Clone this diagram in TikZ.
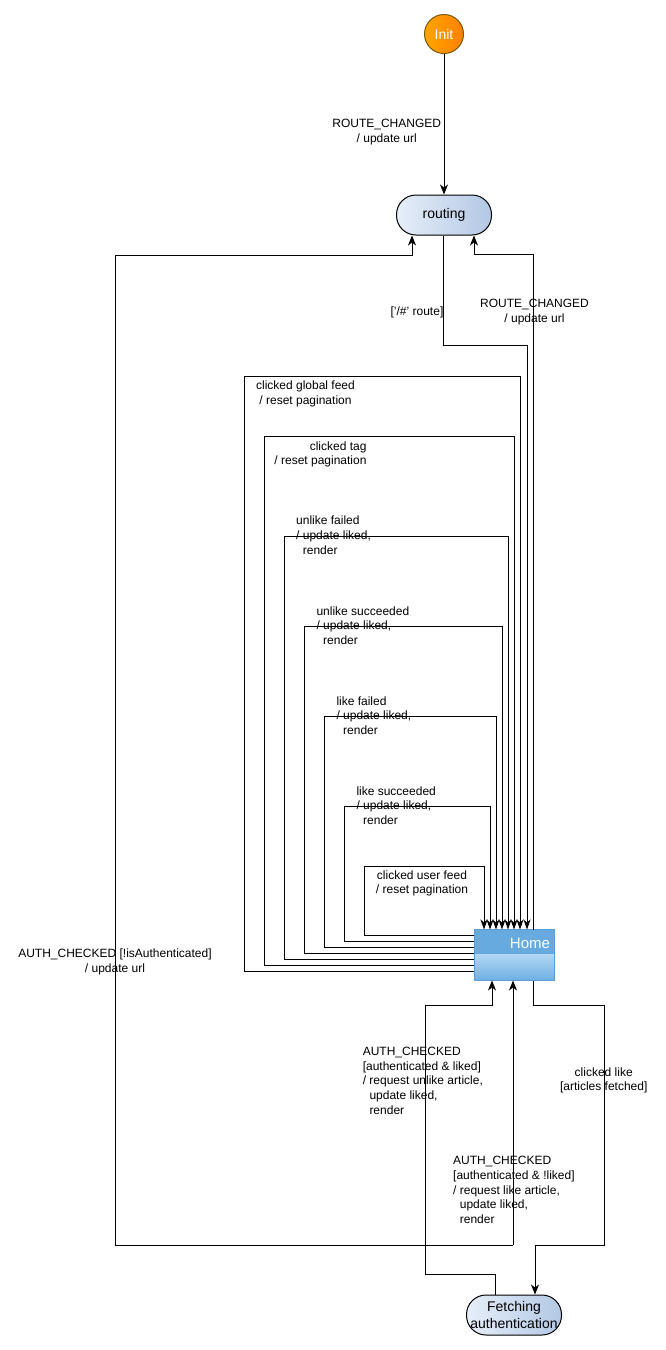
\documentclass[tikz,border=0pt]{standalone}
\usepackage{fontspec}
\setmainfont{Liberation Sans}
\usetikzlibrary{arrows.meta,calc}
\definecolor{initA}{HTML}{FFA500}
\definecolor{initB}{HTML}{FF8000}
\definecolor{initLine}{HTML}{7A5A00}
\definecolor{stA}{HTML}{E6EEF9}
\definecolor{stB}{HTML}{B3C8E4}
\definecolor{homeHead}{HTML}{66AAE0}
\definecolor{homeTop}{HTML}{B4D8F3}
\definecolor{homeBot}{HTML}{6CAFE3}
\definecolor{homeLine}{HTML}{5C9CD2}
\begin{document}
\begin{tikzpicture}[x=1pt,y=-1pt,line width=1pt,
  arr/.style={-{Stealth[length=10pt,width=8pt,inset=3pt]}},
  arrs/.style={-{Stealth[length=10pt,width=7pt,inset=3pt]}},
  lbl/.style={font=\fontsize{12}{14.7}\selectfont, inner sep=0pt},
  statebox/.style={rectangle, rounded corners=19.5pt, draw=black, left color=stA, right color=stB,
    minimum width=95pt, minimum height=40pt, inner sep=0pt, align=center,
    font=\fontsize{14}{17}\selectfont},
  initbox/.style={circle, draw=initLine, left color=initA, right color=initB, minimum size=39pt,
    inner sep=0pt, text=white, font=\fontsize{14}{17}\selectfont},
]
\useasboundingbox (0,0) rectangle (665,1350);
\fill[white] (0,0) rectangle (665,1350);

% nodes
\node[initbox] (init) at (444,34) {Init};
\node[statebox] (routing) at (444,215) {routing};
\node[statebox] (fetch) at (514,1315) {Fetching\\authentication};
\path node[minimum width=79pt, minimum height=50pt, inner sep=0pt] (home) at (514,955) {};
\shade[top color=homeTop, bottom color=homeBot] ($(home.north west)+(0,24)$) rectangle (home.south east);
\fill[homeHead] (home.north west) rectangle ($(home.north east)+(0,24)$);
\draw[homeLine] (home.north west) rectangle (home.south east);
\node[anchor=base east, inner sep=0pt, text=white, font=\fontsize{15}{18}\selectfont] (hometitle) at (550.5,948) {Home};

% connectors
\draw[arr] (init) -- (routing);
\draw[arrs] ([xshift=-1pt]routing.south) -- ++(0,110) -| ([xshift=13pt]home.north);
\draw[arr] ([xshift=19pt]home.north) -- ++(0,-675) -| ([xshift=30pt]routing.south);

\draw[arrs] ([yshift=20pt]home.west) -| (364,866) -| ([xshift=-30pt]home.north);
\draw[arrs] ([yshift=14pt]home.west) -| (344,806) -| ([xshift=-24pt]home.north);
\draw[arrs] ([yshift=8pt]home.west) -| (324,716) -| ([xshift=-18pt]home.north);
\draw[arrs] ([yshift=2pt]home.west) -| (304,626) -| ([xshift=-12pt]home.north);
\draw[arrs] ([yshift=-4pt]home.west) -| (284,536) -| ([xshift=-6pt]home.north);
\draw[arrs] ([yshift=-10pt]home.west) -| (264,436) -| (home.north);
\draw[arrs] ([yshift=-16pt]home.west) -| (244,376) -| ([xshift=6pt]home.north);

\coordinate (J) at (513,1245);
\draw[arr] (J) -- (J |- home.south);
\draw[arr] (J) -| (115,255) -| ([xshift=-32pt]routing.south);
\draw[arr] ([xshift=-19pt]fetch.north) -- ++(0,-20) -| (425,1005) -| ([xshift=-22pt]home.south);
\draw[arr] ([xshift=19pt]home.south) -- ++(0,25) -| (604,1245) -| ([xshift=21pt]fetch.north);

% labels
\node[lbl, anchor=north, align=center] (l1) at (386.7,119) {ROUTE\_CHANGED\\/ update url};
\node[lbl, anchor=north, align=center] (l2) at (417,306) {['/\#' route]};
\node[lbl, anchor=north, align=center] (l3) at (534.5,298.5) {ROUTE\_CHANGED\\/ update url};
\node[lbl, anchor=north, align=center] (l4) at (305.5,380.5) {clicked global feed\\/ reset pagination};
\node[lbl, anchor=north east, align=right] (l5) at (367,441) {clicked tag\\/ reset pagination};
\node[lbl, anchor=north west, align=left] (l6) at (295.7,515.7) {unlike failed\\/ update liked,\\\hspace*{6.7pt}render};
\node[lbl, anchor=north west, align=left] (l7) at (316,606) {unlike succeeded\\/ update liked,\\\hspace*{6.7pt}render};
\node[lbl, anchor=north west, align=left] (l8) at (336,696) {like failed\\/ update liked,\\\hspace*{6.7pt}render};
\node[lbl, anchor=north west, align=left] (l9) at (356,786) {like succeeded\\/ update liked,\\\hspace*{6.7pt}render};
\node[lbl, anchor=north, align=center] (l10) at (422,870) {clicked user feed\\/ reset pagination};
\node[lbl, anchor=north, align=center] (l11) at (115,948.5) {AUTH\_CHECKED [!isAuthenticated]\\/ update url};
\node[lbl, anchor=north west, align=left] (l12) at (362.3,1046.5) {AUTH\_CHECKED\\{}[authenticated \& liked]\\/ request unlike article,\\\hspace*{6.7pt}update liked,\\\hspace*{6.7pt}render};
\node[lbl, anchor=north west, align=left] (l13) at (452.7,1156) {AUTH\_CHECKED\\{}[authenticated \& !liked]\\/ request like article,\\\hspace*{6.7pt}update liked,\\\hspace*{6.7pt}render};
\node[lbl, anchor=north, align=center] (l14) at (603.7,1067) {clicked like\\{}[articles fetched]};
\end{tikzpicture}
\end{document}
